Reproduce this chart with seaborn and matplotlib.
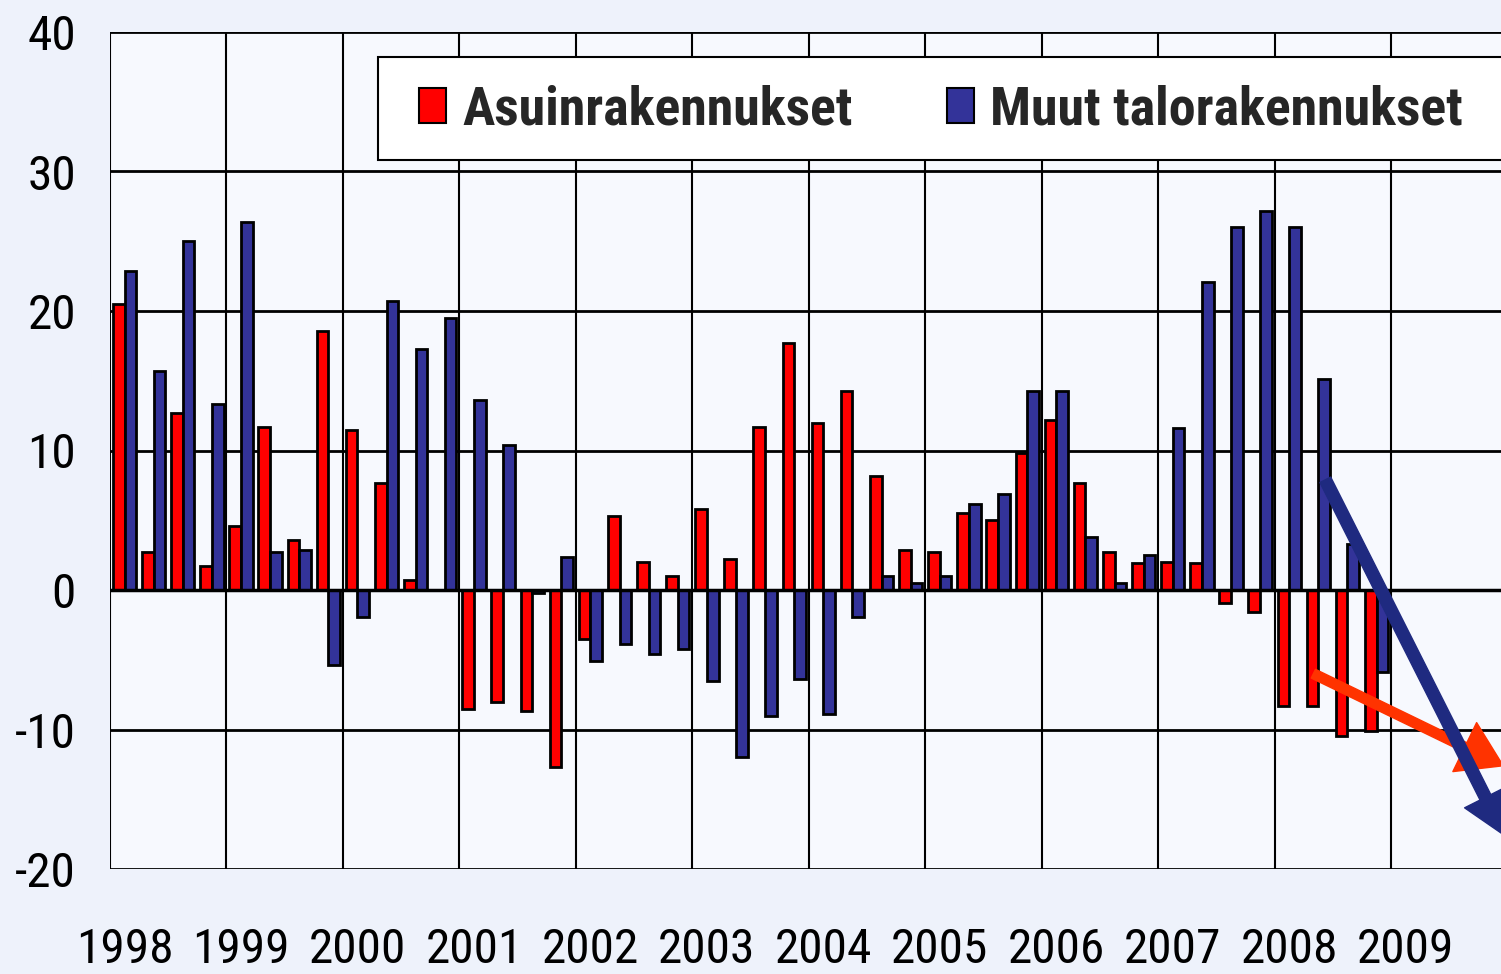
import pandas as pd
import matplotlib.pyplot as plt
import matplotlib.patches as mpatches
from matplotlib import font_manager
import seaborn as sns

# quarterly change, %, 1998Q1 - 2008Q4
years = list(range(1998, 2010))
quarters = [f"{y}Q{q}" for y in range(1998, 2009) for q in range(1, 5)]

asuin = [20.5, 2.7, 12.7, 1.7,
         4.6, 11.7, 3.6, 18.6,
         11.5, 7.7, 0.7, 0.0,
         -8.5, -8.0, -8.7, -12.7,
         -3.5, 5.3, 2.0, 1.0,
         5.8, 2.2, 11.7, 17.7,
         12.0, 14.3, 8.2, 2.9,
         2.7, 5.5, 5.0, 9.8,
         12.2, 7.7, 2.7, 1.9,
         2.0, 1.9, -0.9, -1.6,
         -8.3, -8.3, -10.5, -10.1]
muut = [22.9, 15.7, 25.0, 13.3,
        26.4, 2.7, 2.9, -5.4,
        -1.9, 20.7, 17.3, 19.5,
        13.6, 10.4, -0.2, 2.4,
        -5.1, -3.9, -4.6, -4.2,
        -6.5, -12.0, -9.0, -6.4,
        -8.9, -1.9, 1.0, 0.5,
        1.0, 6.2, 6.9, 14.3,
        14.3, 3.8, 0.5, 2.5,
        11.6, 22.1, 26.0, 27.2,
        26.0, 15.1, 3.3, -5.9]

series_names = ['Asuinrakennukset', 'Muut talorakennukset']
colors = ['#FF0000', '#333399']

# trend arrows (start, end) in quarter index / value
red_arrow = [(40.83, -6.0), (47.35, -12.6)]
blue_arrow = [(41.24, 7.9), (47.4, -17.6)]

df = pd.DataFrame({'Quarter': quarters * 2,
                   'Value': asuin + muut,
                   'Series': [series_names[0]] * len(quarters) + [series_names[1]] * len(quarters)})

sns.set_style('white')

# look for a narrow font, the original uses Arial Narrow
family, stretch = 'DejaVu Sans', 'normal'
entries = font_manager.fontManager.ttflist
for cand in ['Liberation Sans Narrow', 'Arial Narrow', 'Roboto Condensed', 'Open Sans Condensed']:
    if any(f.name == cand for f in entries):
        family = cand
        break
else:
    for f in entries:
        if f.name in ('DejaVu Sans', 'Roboto', 'Open Sans', 'Noto Sans') and 'ondensed' in f.fname:
            family, stretch = f.name, 'condensed'
            break
plt.rcParams['font.family'] = [family, 'DejaVu Sans']
plt.rcParams['font.stretch'] = stretch

fig = plt.figure(figsize=(15.01, 9.74), dpi=100, facecolor='#EEF2FB')
renderer = fig.canvas.get_renderer()


def size_for(text, width_px, weight='normal'):
    t = fig.text(0, 0, text, fontsize=10, fontweight=weight)
    w = t.get_window_extent(renderer).width
    t.remove()
    return 10 * width_px / w


tick_size = size_for('1998', 97)
leg_size = size_for('Asuinrakennukset', 391, 'bold')

ax = fig.add_axes([110 / 1501, 105 / 974, 1397.6 / 1501, 837 / 974])
ax.set_facecolor('#F7F9FE')

sns.barplot(data=df, x='Quarter', y='Value', hue='Series', hue_order=series_names,
            palette=colors, saturation=1, edgecolor='black', linewidth=2, width=0.8,
            legend=False, ax=ax, zorder=3)

ax.set_xlim(-0.5, 47.5)
ax.set_ylim(-20, 40)
ax.set_yticks(range(-20, 41, 10))
ax.set_yticklabels([str(v) for v in range(-20, 41, 10)])

# year gridlines at year boundaries, labels under first quarter
ax.set_xticks([4 * i - 0.5 for i in range(len(years) + 1)], minor=True)
ax.set_xticks([4 * i for i in range(len(years))])
ax.set_xticklabels([str(y) for y in years])

ax.grid(axis='y', color='black', linewidth=2, zorder=1)
ax.grid(axis='x', which='minor', color='black', linewidth=1.5, zorder=1)
ax.grid(axis='x', which='major', visible=False)
ax.axhline(0, color='black', linewidth=2.5, zorder=4)

ax.tick_params(axis='y', length=9.5, width=1.5, color='black', pad=15, labelsize=tick_size,
               labelcolor='black')
ax.tick_params(axis='x', which='both', length=0, pad=42, labelsize=tick_size, labelcolor='black')
for s in ax.spines.values():
    s.set_visible(False)
ax.set_xlabel('')
ax.set_ylabel('')

for (x0, y0), (x1, y1), c, w, hw in [(red_arrow[0], red_arrow[1], '#FF3300', 0.5, 2.8),
                                     (blue_arrow[0], blue_arrow[1], '#1F2A80', 0.62, 2.4)]:
    ax.annotate('', xy=(x1, y1), xytext=(x0, y0), annotation_clip=False,
                arrowprops=dict(arrowstyle=f'simple,head_length=2.2,head_width={hw},tail_width={w}',
                                color=c, mutation_scale=14, shrinkA=0, shrinkB=0), zorder=5)

# legend box
box = mpatches.Rectangle((378 / 1501, 1 - 160 / 974), 1130 / 1501, 103 / 974,
                         transform=fig.transFigure, facecolor='white', edgecolor='black',
                         linewidth=1.5, zorder=6)
fig.patches.append(box)
handles = [mpatches.Patch(facecolor=c, edgecolor='black', linewidth=1.5) for c in colors]
leg = fig.legend(handles, series_names, loc='center',
                 bbox_to_anchor=(941 / 1501, 1 - 110 / 974),
                 ncol=2, frameon=False, prop={'weight': 'bold', 'size': leg_size},
                 handlelength=0.5, handleheight=0.62, handletextpad=0.3,
                 columnspacing=94 / (leg_size * 100 / 72), borderpad=0)
leg.set_zorder(7)

fig.savefig('out.png', dpi=100, facecolor=fig.get_facecolor())
